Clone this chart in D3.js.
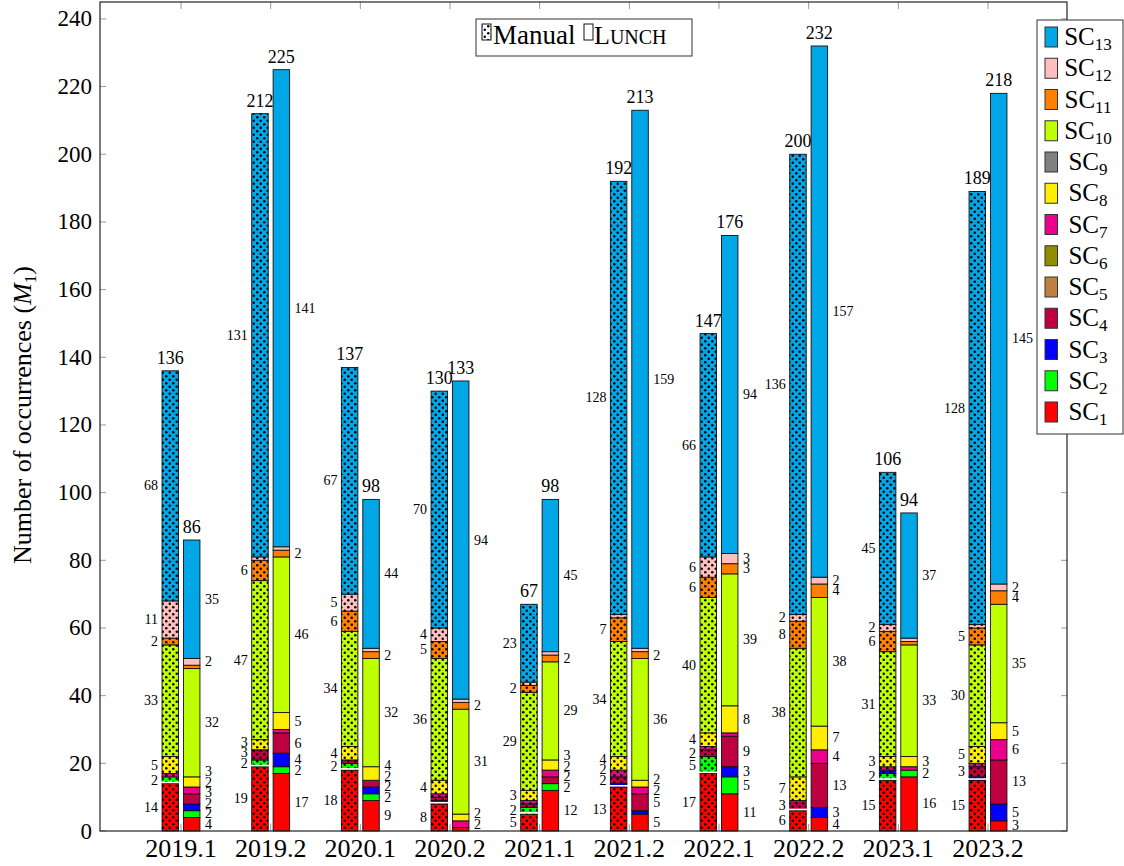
<!DOCTYPE html>
<html>
<head>
<meta charset="utf-8">
<script src="https://cdn.jsdelivr.net/npm/d3@7"></script>
<style>
  body { margin: 0; background: #fff; }
  svg { display: block; }
</style>
</head>
<body>
<svg id="chart" width="1124" height="866" font-family="'Liberation Serif', Tinos, 'Times New Roman', Times, serif"></svg>
<script>
// Semesters on the x axis
const periods = ["2019.1", "2019.2", "2020.1", "2020.2", "2021.1", "2021.2", "2022.1", "2022.2", "2023.1", "2023.2"];

// Smell categories, stacked bottom (SC1) to top (SC13)
const categories = ["SC1", "SC2", "SC3", "SC4", "SC5", "SC6", "SC7", "SC8", "SC9", "SC10", "SC11", "SC12", "SC13"];
const categoryColors = ["#ff0000", "#00ff00", "#0000ff", "#bf0040", "#bf8040", "#938b00", "#ec008c",
                        "#ffee00", "#808080", "#bfff00", "#ff8000", "#ffbfbf", "#00a6e6"];

// Occurrences found by manual inspection, one row per semester (SC1..SC13)
const manualCounts = [
  [14, 2, 0, 0, 0, 0, 1, 5, 0, 33, 2, 11, 68],
  [19, 2, 0, 3, 0, 0, 0, 3, 0, 47, 6, 1, 131],
  [18, 2, 0, 1, 0, 0, 0, 4, 0, 34, 6, 5, 67],
  [8, 0, 1, 1, 0, 0, 1, 4, 0, 36, 5, 4, 70],
  [5, 2, 0, 1, 0, 0, 1, 3, 0, 29, 2, 1, 23],
  [13, 0, 1, 2, 0, 0, 2, 4, 0, 34, 7, 1, 128],
  [17, 5, 0, 2, 0, 0, 1, 4, 0, 40, 6, 6, 66],
  [6, 0, 0, 3, 0, 0, 0, 7, 0, 38, 8, 2, 136],
  [15, 2, 1, 0, 0, 0, 1, 3, 0, 31, 6, 2, 45],
  [15, 0, 1, 3, 0, 0, 1, 5, 0, 30, 5, 1, 128]
];

// Occurrences reported by LUNCH, one row per semester (SC1..SC13)
const lunchCounts = [
  [4, 2, 2, 3, 0, 0, 2, 3, 0, 32, 1, 2, 35],
  [17, 2, 4, 6, 0, 0, 1, 5, 0, 46, 2, 1, 141],
  [9, 2, 2, 2, 0, 0, 0, 4, 0, 32, 2, 1, 44],
  [1, 0, 0, 0, 0, 0, 2, 2, 0, 31, 2, 1, 94],
  [12, 2, 0, 2, 0, 0, 2, 3, 0, 29, 2, 1, 45],
  [5, 0, 1, 5, 0, 0, 2, 2, 0, 36, 2, 1, 159],
  [11, 5, 3, 9, 0, 0, 1, 8, 0, 39, 3, 3, 94],
  [4, 0, 3, 13, 0, 0, 4, 7, 0, 38, 4, 2, 157],
  [16, 2, 0, 0, 0, 0, 1, 3, 0, 33, 1, 1, 37],
  [3, 0, 5, 13, 0, 0, 6, 5, 0, 35, 4, 2, 145]
];

const yTicks = [0, 20, 40, 60, 80, 100, 120, 140, 160, 180, 200, 220, 240];

const svg = d3.select("#chart");
const frame = { left: 100, right: 1067, top: 2, bottom: 831 };

// Dotted fill for the manual bars
const defs = svg.append("defs");
const pat = defs.append("pattern").attr("id", "dots")
  .attr("patternUnits", "userSpaceOnUse").attr("width", 7).attr("height", 7);
pat.append("circle").attr("cx", 1.75).attr("cy", 1.75).attr("r", 1.25).attr("fill", "#000");
pat.append("circle").attr("cx", 5.25).attr("cy", 5.25).attr("r", 1.25).attr("fill", "#000");

const x = d3.scalePoint().domain(periods).range([181, 988]);
const y = d3.scaleLinear().domain([0, 245]).range([frame.bottom, frame.top]);
const color = d3.scaleOrdinal().domain(categories).range(categoryColors);

const barW = 16.5;
const shift = { manual: -10.7, lunch: 10.7 };

// Ticks (inside the frame, light grey)
const tickG = svg.append("g").attr("stroke", "#999").attr("stroke-width", 1);
yTicks.forEach(t => {
  tickG.append("line").attr("x1", frame.left).attr("x2", frame.left + 6).attr("y1", y(t)).attr("y2", y(t));
  tickG.append("line").attr("x1", frame.right).attr("x2", frame.right - 6).attr("y1", y(t)).attr("y2", y(t));
});
periods.forEach(p => {
  tickG.append("line").attr("x1", x(p)).attr("x2", x(p)).attr("y1", frame.top).attr("y2", frame.top + 7);
  tickG.append("line").attr("x1", x(p)).attr("x2", x(p)).attr("y1", frame.bottom).attr("y2", frame.bottom - 7);
});

// Y tick labels
svg.append("g").selectAll("text").data(yTicks).join("text")
  .attr("x", 92).attr("y", d => y(d)).attr("text-anchor", "end")
  .attr("dominant-baseline", "central").attr("font-size", 23).text(d => d);

// X tick labels
svg.append("g").selectAll("text").data(periods).join("text")
  .attr("x", d => x(d)).attr("y", 857).attr("text-anchor", "middle")
  .attr("font-size", 26).text(d => d);

// Y axis title
const yTitle = svg.append("text")
  .attr("transform", "translate(31,415) rotate(-90)")
  .attr("text-anchor", "middle").attr("font-size", 26);
yTitle.append("tspan").text("Number of occurrences (");
yTitle.append("tspan").attr("font-style", "italic").text("M");
yTitle.append("tspan").attr("dy", 5).attr("font-size", 17).text("1");
yTitle.append("tspan").attr("dy", -5).text(")");

// Stacked bars
function toRows(counts) {
  return counts.map((row, i) => {
    const o = { period: periods[i] };
    categories.forEach((c, j) => { o[c] = row[j]; });
    return o;
  });
}
const stack = d3.stack().keys(categories);

// keep value labels of one bar from piling on top of each other
function spread(labels, gap) {
  labels.sort((a, b) => b.y - a.y);
  for (let k = 1; k < labels.length; k++) {
    if (labels[k - 1].y - labels[k].y < gap) labels[k].y = labels[k - 1].y - gap;
  }
  return labels;
}

function drawSeries(counts, kind) {
  const layers = stack(toRows(counts));
  const g = svg.append("g");
  const dx = shift[kind];
  const perBar = periods.map(() => []);
  layers.forEach(layer => {
    const key = layer.key;
    layer.forEach((seg, i) => {
      const v = seg[1] - seg[0];
      if (v <= 0) return;
      const p = seg.data.period;
      const x0 = x(p) + dx - barW / 2;
      g.append("rect").attr("x", x0).attr("y", y(seg[1]))
        .attr("width", barW).attr("height", y(seg[0]) - y(seg[1]))
        .attr("fill", color(key)).attr("stroke", "#111").attr("stroke-width", 0.9);
      if (kind === "manual") {
        g.append("rect").attr("x", x0).attr("y", y(seg[1]))
          .attr("width", barW).attr("height", y(seg[0]) - y(seg[1]))
          .attr("fill", "url(#dots)").attr("stroke", "none");
      }
      if (v >= 2) {
        perBar[i].push({ v, x0, y: y((seg[0] + seg[1]) / 2) });
      }
    });
  });
  perBar.forEach(labels => {
    spread(labels, 10.5).forEach(l => {
      g.append("text")
        .attr("x", kind === "manual" ? l.x0 - 4 : l.x0 + barW + 5)
        .attr("y", l.y).attr("dominant-baseline", "central")
        .attr("text-anchor", kind === "manual" ? "end" : "start")
        .attr("font-size", 14).text(l.v);
    });
  });
  // separator drawn above SC1 on dotted bars
  if (kind === "manual") {
    layers[0].forEach(seg => {
      const p = seg.data.period;
      g.append("line").attr("x1", x(p) + dx - barW / 2 - 1).attr("x2", x(p) + dx + barW / 2 + 1)
        .attr("y1", y(seg[1]) - 1.2).attr("y2", y(seg[1]) - 1.2)
        .attr("stroke", "#fff").attr("stroke-width", 1.6);
    });
  }
  // totals above each bar
  counts.forEach((row, i) => {
    const total = d3.sum(row);
    g.append("text").attr("x", x(periods[i]) + dx).attr("y", y(total) - 7)
      .attr("text-anchor", "middle").attr("font-size", 18).text(total);
  });
}
drawSeries(manualCounts, "manual");
drawSeries(lunchCounts, "lunch");

// Frame
svg.append("rect").attr("x", frame.left).attr("y", frame.top)
  .attr("width", frame.right - frame.left).attr("height", frame.bottom - frame.top)
  .attr("fill", "none").attr("stroke", "#222").attr("stroke-width", 1.2);

// Legend: bar kinds
const lg1 = svg.append("g");
lg1.append("rect").attr("x", 476).attr("y", 19).attr("width", 216).attr("height", 37)
  .attr("fill", "#fff").attr("stroke", "#444").attr("stroke-width", 1.1);
lg1.append("rect").attr("x", 482).attr("y", 24).attr("width", 9).attr("height", 16)
  .attr("fill", "#fff").attr("stroke", "#111");
lg1.append("rect").attr("x", 482).attr("y", 24).attr("width", 9).attr("height", 16)
  .attr("fill", "url(#dots)");
lg1.append("text").attr("x", 493).attr("y", 44).attr("font-size", 27).text("Manual");
lg1.append("rect").attr("x", 584).attr("y", 24).attr("width", 9).attr("height", 16)
  .attr("fill", "#fff").attr("stroke", "#111");
const lunchLabel = lg1.append("text").attr("x", 594).attr("y", 44).attr("font-size", 26);
lunchLabel.append("tspan").text("L");
lunchLabel.append("tspan").attr("font-size", 20).text("UNCH");

// Legend: categories, SC13 first
const lg2 = svg.append("g");
lg2.append("rect").attr("x", 1037).attr("y", 20).attr("width", 86).attr("height", 414)
  .attr("fill", "#fff").attr("stroke", "#444").attr("stroke-width", 1.1);
const legendCats = categories.slice().reverse();
legendCats.forEach((c, i) => {
  const cy = 37 + i * 31.25;
  lg2.append("rect").attr("x", 1045).attr("y", cy - 10).attr("width", 12.5).attr("height", 20)
    .attr("fill", color(c)).attr("stroke", "#333").attr("stroke-width", 1);
  const t = lg2.append("text").attr("x", 1088).attr("y", cy + 8)
    .attr("text-anchor", "middle").attr("font-size", 25);
  t.append("tspan").text("SC");
  t.append("tspan").attr("dy", 5).attr("font-size", 17).text(c.slice(2));
});
</script>
</body>
</html>
